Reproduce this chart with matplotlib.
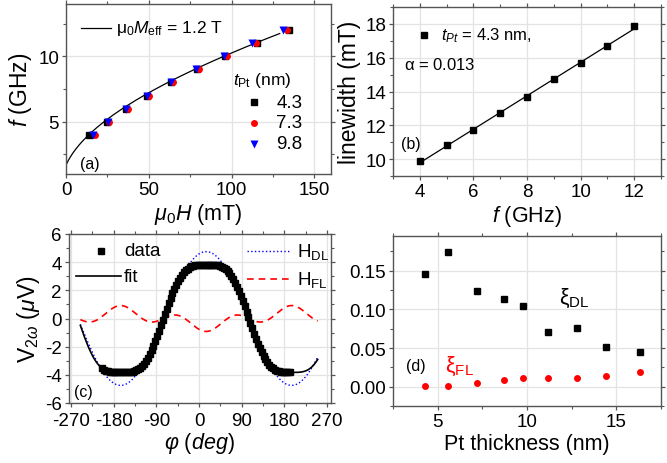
import numpy as np
import matplotlib
matplotlib.use('Agg')
import matplotlib.pyplot as plt
from matplotlib.ticker import MultipleLocator

plt.rcParams['font.family'] = ['Liberation Sans', 'DejaVu Sans']
plt.rcParams['mathtext.fontset'] = 'custom'
plt.rcParams['mathtext.rm'] = 'Liberation Sans'
plt.rcParams['mathtext.it'] = 'Liberation Sans:italic'
plt.rcParams['mathtext.sf'] = 'Liberation Sans'
plt.rcParams['axes.unicode_minus'] = False

# (a) resonance field vs frequency
freq_a = [4, 5, 6, 7, 8, 9, 10, 11, 12]
H_43 = [13.7, 24.5, 36.0, 49.0, 63.5, 79.0, 96.0, 115.3, 134.5]
H_73 = [17.5, 26.1, 37.3, 50.2, 64.6, 80.1, 97.4, 114.9, 133.3]
H_98 = [16.5, 25.1, 36.5, 48.8, 63.5, 78.7, 95.2, 112.2, 130.9]
Meff = 1.2      # T
Hk = 0.003      # T
gamma = 28.0    # GHz/T

# (b) linewidth vs frequency
freq_b = [4, 5, 6, 7, 8, 9, 10, 11, 12]
linewidth = [9.9, 10.81, 11.7, 12.7, 13.65, 14.73, 15.68, 16.7, 17.85]

# (c) second harmonic voltage vs angle
phi_data = list(range(-204, 193, 4))
v2w = [-3.54, -3.63, -3.70, -3.75, -3.78, -3.81, -3.82, -3.83, -3.83, -3.83,
       -3.83, -3.83, -3.83, -3.82, -3.81, -3.80, -3.77, -3.73, -3.67, -3.59,
       -3.49, -3.36, -3.20, -3.01, -2.79, -2.54, -2.26, -1.95, -1.61, -1.25,
       -0.88, -0.49, -0.10, 0.30, 0.69, 1.07, 1.44, 1.78, 2.11, 2.40,
       2.67, 2.90, 3.11, 3.28, 3.43, 3.54, 3.63, 3.70, 3.75, 3.78,
       3.81, 3.82, 3.83, 3.83, 3.83, 3.83, 3.83, 3.83, 3.82, 3.81,
       3.80, 3.77, 3.73, 3.67, 3.59, 3.49, 3.36, 3.20, 3.01, 2.79,
       2.54, 2.26, 1.95, 1.61, 1.25, 0.88, 0.49, 0.10, -0.30, -0.69,
       -1.07, -1.44, -1.78, -2.11, -2.40, -2.67, -2.90, -3.11, -3.28, -3.43,
       -3.54, -3.63, -3.70, -3.75, -3.78, -3.81, -3.82, -3.83, -3.83, -3.83]
A_DL = 4.75
A_FL = 0.92
phi0 = 15

# (d) torque efficiencies vs Pt thickness
t_pt = [4.3, 5.6, 7.2, 8.7, 9.8, 11.2, 12.8, 14.4, 16.3]
xi_DL = [0.1457, 0.1739, 0.1239, 0.1139, 0.1043, 0.0713, 0.0765, 0.0513, 0.0448]
xi_FL = [0.0013, 0.0009, 0.0048, 0.0087, 0.0117, 0.0113, 0.0113, 0.0143, 0.0187]

FS = 10.5
spine_col = '#555555'

fig = plt.figure(figsize=(6.67, 4.64), dpi=100)
ax_a = fig.add_axes([66/667, 1-175/464, 265/667, 170/464])
ax_b = fig.add_axes([393/667, 1-177/464, 268/667, 169/464])
ax_c = fig.add_axes([68.5/667, 1-404/464, 262.5/667, 169/464])
ax_d = fig.add_axes([393/667, 1-407/464, 268/667, 170/464])


def style(ax):
    for s in ax.spines.values():
        s.set_color(spine_col)
        s.set_linewidth(1.0)
    ax.tick_params(which='both', direction='out', top=True, right=True,
                   labeltop=False, labelright=False, colors=spine_col,
                   labelcolor='black', labelsize=FS + 3)
    ax.tick_params(which='major', length=3, width=0.9, pad=2)
    ax.tick_params(which='minor', length=2, width=0.8)
    ax.grid(True, which='major', color='#e3e3e3', linewidth=0.9)
    ax.set_axisbelow(True)


# ---- (a)
style(ax_a)
H_fit = np.linspace(0.0004, 0.129, 200)
f_fit = gamma * np.sqrt((H_fit + Hk) * (H_fit + Hk + Meff))
ax_a.plot(H_fit * 1000, f_fit, color='black', lw=0.9)
ax_a.plot(H_43, freq_a, 's', color='black', ms=4.5)
ax_a.plot(H_73, freq_a, 'o', color='red', ms=5, mec='none')
ax_a.plot(H_98, freq_a, 'v', color='blue', ms=5.5, mec='none')
ax_a.set_xlim(0, 160)
ax_a.set_ylim(1, 14)
ax_a.xaxis.set_major_locator(MultipleLocator(50))
ax_a.xaxis.set_minor_locator(MultipleLocator(25))
ax_a.yaxis.set_major_locator(MultipleLocator(5))
ax_a.yaxis.set_minor_locator(MultipleLocator(2.5))
ax_a.set_xlabel(r'$\mu_0H$ (mT)', fontsize=FS + 5, labelpad=2)
ax_a.set_ylabel(r'$f$ (GHz)', fontsize=FS + 6, labelpad=3)
ax_a.plot([9, 27], [12.2, 12.2], color='black', lw=0.9)
ax_a.text(30, 12.2, r'$\mathregular{\mu_0}M_{\mathregular{eff}}$ = 1.2 T',
          fontsize=FS + 2, va='center')
ax_a.text(101, 8.2, r'$t_{\mathregular{Pt}}$ (nm)', fontsize=FS + 2, va='center')
ax_a.plot(113.5, 6.5, 's', color='black', ms=4.5)
ax_a.plot(113.5, 4.9, 'o', color='red', ms=5, mec='none')
ax_a.plot(113.5, 3.3, 'v', color='blue', ms=5.5, mec='none')
for y, lab in zip([6.5, 4.9, 3.3], ['4.3', '7.3', '9.8']):
    ax_a.text(127, y, lab, fontsize=FS + 3, va='center')
ax_a.text(8.5, 1.8, '(a)', fontsize=FS + 1, va='center')

# ---- (b)
style(ax_b)
coef = np.polyfit(freq_b, linewidth, 1)
fb = np.array([freq_b[0], freq_b[-1]])
ax_b.plot(fb, np.polyval(coef, fb), color='black', lw=0.9)
ax_b.plot(freq_b, linewidth, 's', color='black', ms=4.5)
ax_b.set_xlim(3, 13)
ax_b.set_ylim(9, 19)
ax_b.xaxis.set_major_locator(MultipleLocator(2))
ax_b.xaxis.set_minor_locator(MultipleLocator(1))
ax_b.yaxis.set_major_locator(MultipleLocator(2))
ax_b.yaxis.set_minor_locator(MultipleLocator(1))
ax_b.set_xlabel(r'$f$ (GHz)', fontsize=FS + 5, labelpad=2)
ax_b.set_ylabel('linewidth (mT)', fontsize=FS + 6, labelpad=3)
ax_b.plot(4.15, 17.35, 's', color='black', ms=4.5)
ax_b.text(4.8, 17.35, r'$t_{Pt}$ = 4.3 nm,', fontsize=FS + 1.5, va='center')
ax_b.text(3.4, 15.65, r'$\mathregular{\alpha}$ = 0.013', fontsize=FS + 1.5, va='center')
ax_b.text(3.3, 10.9, '(b)', fontsize=FS + 1, va='center')

# ---- (c)
style(ax_c)
ax_c.tick_params(axis='x', which='major', pad=3.5)
phi_line = np.linspace(-250, 250, 400)
th = np.radians(phi_line - phi0)
h_dl = A_DL * np.cos(th)
h_fl = -A_FL * np.cos(th) * np.cos(2 * th)
ax_c.plot(phi_line, h_dl, ':', color='blue', lw=1.0)
ax_c.plot(phi_line, h_fl, '--', color='red', lw=1.2, dashes=(4, 3))
ax_c.plot(phi_line, h_dl + h_fl, color='black', lw=1.2)
ax_c.plot(phi_data, v2w, 's', color='black', ms=4.5, ls='none')
ax_c.set_xlim(-275, 278)
ax_c.set_ylim(-6, 6)
ax_c.xaxis.set_major_locator(MultipleLocator(90))
ax_c.xaxis.set_minor_locator(MultipleLocator(45))
ax_c.yaxis.set_major_locator(MultipleLocator(2))
ax_c.yaxis.set_minor_locator(MultipleLocator(1))
ax_c.set_xlabel(r'$\varphi$ $(deg)$', fontsize=FS + 5, labelpad=1)
ax_c.set_ylabel(r'V$_{2\omega}$ $(\mu$V)', fontsize=FS + 6, labelpad=2)
ax_c.plot(-207, 4.8, 's', color='black', ms=5)
ax_c.text(-158, 4.8, 'data', fontsize=FS + 3, va='center')
ax_c.plot([-260, -165], [3.0, 3.0], color='black', lw=1.2)
ax_c.text(-158, 3.0, 'fit', fontsize=FS + 3, va='center')
ax_c.plot([100, 190], [4.8, 4.8], ':', color='blue', lw=1.0)
ax_c.text(206, 4.8, r'H$_{\mathregular{DL}}$', fontsize=FS + 3, va='center')
ax_c.plot([100, 190], [2.8, 2.8], '--', color='red', lw=1.2, dashes=(4, 3))
ax_c.text(206, 2.8, r'H$_{\mathregular{FL}}$', fontsize=FS + 3, va='center')
ax_c.text(-263, -5.2, '(c)', fontsize=FS + 1, va='center')

# ---- (d)
style(ax_d)
ax_d.plot(t_pt, xi_DL, 's', color='black', ms=4.5)
ax_d.plot(t_pt, xi_FL, 'o', color='red', ms=5, mec='none')
ax_d.set_xlim(2.5, 17.5)
ax_d.set_ylim(-0.025, 0.195)
ax_d.xaxis.set_major_locator(MultipleLocator(5))
ax_d.xaxis.set_minor_locator(MultipleLocator(2.5))
ax_d.yaxis.set_major_locator(MultipleLocator(0.05))
ax_d.yaxis.set_minor_locator(MultipleLocator(0.025))
ax_d.yaxis.set_major_formatter(plt.FormatStrFormatter('%.2f'))
ax_d.set_xlabel('Pt thickness (nm)', fontsize=FS + 5, labelpad=2)
ax_d.text(11.8, 0.116, r'$\mathregular{\xi_{DL}}$', fontsize=FS + 5, va='center')
ax_d.text(5.4, 0.028, r'$\mathregular{\xi_{FL}}$', fontsize=FS + 5, va='center',
          color='red')
ax_d.text(3.2, 0.028, '(d)', fontsize=FS + 1, va='center')

fig.savefig('out.png', dpi=100)
